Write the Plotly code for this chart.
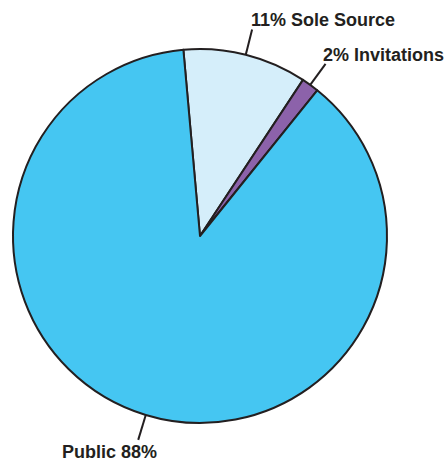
import math
import plotly.graph_objects as go

# Award method shares (percent)
categories = ["Sole Source", "Invitations", "Public"]
shares = [10.7, 1.5, 87.8]
colors = ["#D5EEFA", "#8C62AA", "#45C6F2"]
label_texts = [
    f"{int(shares[0] + 0.5)}% Sole Source",
    f"{int(shares[1] + 0.5)}% Invitations",
    f"Public {int(shares[2] + 0.5)}%",
]

W, H = 446, 462
CX, CY, R = 200, 236, 187          # pie centre and radius in pixels
START = -5.1                       # first slice starts just left of 12 o'clock
INK = "#231F20"
FONT = dict(family="Liberation Sans, Arial, sans-serif", size=18, color=INK)


def to_paper(px, py):
    return px / W, 1 - py / H


x0, y0 = to_paper(CX - R, CY + R)
x1, y1 = to_paper(CX + R, CY - R)

fig = go.Figure(
    go.Pie(
        labels=categories,
        values=shares,
        sort=False,
        direction="clockwise",
        rotation=START,
        marker=dict(colors=colors, line=dict(color=INK, width=2)),
        textinfo="none",
        hoverinfo="label+percent",
        showlegend=False,
        domain=dict(x=[x0, x1], y=[y0, y1]),
    )
)

# Leader lines run radially out from each slice's mid-angle
label_style = [
    dict(xanchor="left", yanchor="bottom", xshift=-3, yshift=-3),
    dict(xanchor="left", yanchor="bottom", xshift=-5, yshift=-3),
    dict(xanchor="center", yanchor="top", xshift=-29, yshift=0),
]
total = sum(shares)
acc = 0.0
shapes, annotations = [], []
for val, text, st in zip(shares, label_texts, label_style):
    mid = math.radians(START + (acc + val / 2) / total * 360)
    acc += val
    sx, sy = CX + R * math.sin(mid), CY - R * math.cos(mid)
    ex, ey = CX + (R + 26) * math.sin(mid), CY - (R + 26) * math.cos(mid)
    (psx, psy), (pex, pey) = to_paper(sx, sy), to_paper(ex, ey)
    shapes.append(dict(type="line", xref="paper", yref="paper",
                       x0=psx, y0=psy, x1=pex, y1=pey,
                       line=dict(color=INK, width=2)))
    annotations.append(dict(xref="paper", yref="paper", x=pex, y=pey,
                            text=f"<b>{text}</b>", showarrow=False,
                            font=FONT, **st))

fig.update_layout(
    width=W, height=H,
    margin=dict(l=0, r=0, t=0, b=0),
    paper_bgcolor="white", plot_bgcolor="white",
    shapes=shapes, annotations=annotations,
)

fig.write_html("out.html")
